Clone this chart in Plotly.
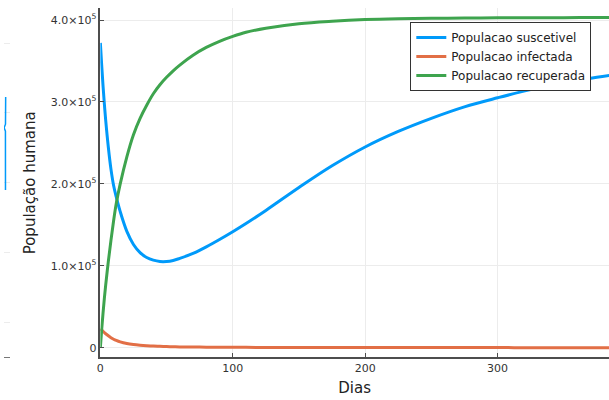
import plotly.graph_objects as go

# --- SIR-style population curves (values in units of 1e5 people) ---
dias = [0, 1, 2, 3, 4, 6, 8, 10, 12, 15, 20, 25, 30, 35, 40, 45, 50, 55, 60,
        70, 80, 90, 100, 110, 125, 150, 175, 200, 225, 250, 275, 300, 325,
        350, 375, 400]
suscetivel = [3.72, 3.45, 3.20, 2.98, 2.78, 2.45, 2.18, 1.98, 1.84, 1.66, 1.42,
              1.26, 1.16, 1.10, 1.068, 1.052, 1.052, 1.065, 1.09,
              1.15, 1.23, 1.32, 1.415, 1.515, 1.675, 1.955, 2.22, 2.45, 2.64,
              2.80, 2.94, 3.05, 3.15, 3.23, 3.30, 3.36]
infectada = [0.23, 0.215, 0.20, 0.185, 0.17, 0.145, 0.122, 0.103, 0.088, 0.07,
             0.05, 0.038, 0.03, 0.024, 0.019, 0.016, 0.013, 0.011, 0.0095,
             0.0075, 0.006, 0.005, 0.004, 0.0035, 0.003, 0.002, 0.0015, 0.0012,
             0.001, 0.0008, 0.0006, 0.0005, 0.0004, 0.0003, 0.0003, 0.0002]
recuperada = [0.0, 0.22, 0.42, 0.60, 0.76, 1.05, 1.31, 1.55, 1.76, 2.00, 2.33,
              2.60, 2.80, 2.96, 3.10, 3.21, 3.30, 3.38, 3.45,
              3.57, 3.665, 3.74, 3.80, 3.85, 3.90, 3.955, 3.985, 4.005, 4.015,
              4.02, 4.024, 4.027, 4.028, 4.029, 4.03, 4.03]
escala = 1e5

# tail of the neighbouring panel on the left
lado_x = [0.25, 0.27, 0.24, 0.02, 0.25, 0.28]
lado_y = [1.90, 2.40, 2.74, 2.79, 2.84, 3.23]

y_ticks = [0, 1e5, 2e5, 3e5, 4e5]
y_ticktext = ["0", "1.0×10<sup>5</sup>", "2.0×10<sup>5</sup>",
              "3.0×10<sup>5</sup>", "4.0×10<sup>5</sup>"]
x_ticks = [0, 100, 200, 300]

azul = "#009AFA"
laranja = "#E26F46"
verde = "#3EA44E"
eixo = "#4d4d4d"
grade = "#ececec"

fig = go.Figure()
for nome, serie, cor in [("Populacao suscetivel", suscetivel, azul),
                         ("Populacao infectada", infectada, laranja),
                         ("Populacao recuperada", recuperada, verde)]:
    fig.add_trace(go.Scatter(
        x=dias, y=[v * escala for v in serie], name=nome, mode="lines",
        line=dict(color=cor, width=3, shape="spline", smoothing=1.0),
        xaxis="x", yaxis="y"))

fig.add_trace(go.Scatter(
    x=lado_x, y=lado_y, mode="lines", showlegend=False,
    line=dict(color=azul, width=1.5), xaxis="x2", yaxis="y2"))

fonte = "DejaVu Sans"
fig.update_layout(
    width=609, height=400,
    margin=dict(l=0, r=0, t=8, b=43),
    paper_bgcolor="white", plot_bgcolor="white",
    font=dict(family=fonte, color="#333333"),
    xaxis=dict(domain=[97 / 609, 1], range=[0, 384.2], tickvals=x_ticks,
               showgrid=True, gridcolor=grade, gridwidth=1, zeroline=False,
               showline=True, linecolor=eixo, linewidth=1.5,
               ticks="inside", ticklen=4, tickcolor=eixo,
               tickfont=dict(size=11, color="#333333"),
               title=dict(text="Dias", font=dict(size=15, color="#222222"),
                          standoff=9),
               anchor="y"),
    yaxis=dict(domain=[0, 1], range=[-11400, 414650], tickvals=y_ticks,
               ticktext=y_ticktext, showgrid=True, gridcolor=grade, gridwidth=1,
               zeroline=False, showline=True, linecolor=eixo, linewidth=1.5,
               ticks="inside", ticklen=4, tickcolor=eixo,
               tickfont=dict(size=11, color="#333333"), anchor="x"),
    xaxis2=dict(domain=[0, 6 / 609], range=[0, 1], showticklabels=False,
                showgrid=False, zeroline=False, showline=True,
                linecolor="#777777", linewidth=1, anchor="y2"),
    yaxis2=dict(domain=[0, 1], range=[-0.486, 4.5], tickvals=[0, 1, 2, 3, 4],
                showticklabels=False, showgrid=True, gridcolor=grade,
                zeroline=False, showline=False, anchor="x2"),
    legend=dict(x=409 / 609, y=0.96, xanchor="left", yanchor="top",
                bgcolor="white", bordercolor="#333333", borderwidth=1,
                font=dict(size=12, color="#222222"), tracegroupgap=0,
                itemwidth=30),
    annotations=[dict(text="População humana", textangle=-90,
                      x=26 / 609, y=0.5, xref="paper", yref="paper",
                      xanchor="center", yanchor="middle",
                      showarrow=False, font=dict(size=15, color="#222222"))],
)

fig.write_html("out.html")
